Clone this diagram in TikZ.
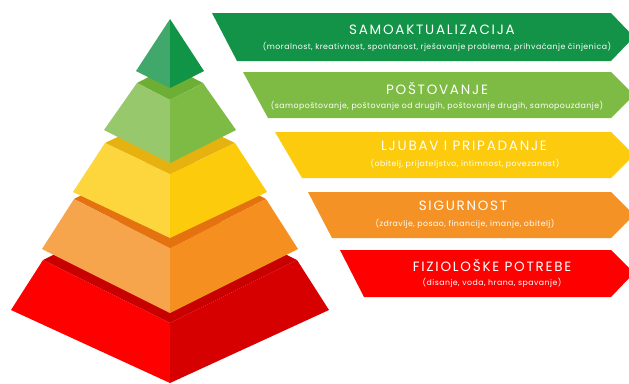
\documentclass[tikz,border=0pt]{standalone}
\usepackage{fontspec}
\setmainfont{Poppins}
\newfontfamily\ttlfont[LetterSpace=13]{Poppins}
\newfontfamily\subfont[LetterSpace=6]{Poppins}
\definecolor{redtop}{HTML}{C80000}
\definecolor{redleft}{HTML}{FF0000}
\definecolor{redright}{HTML}{D70000}
\definecolor{orgtop}{HTML}{E3720F}
\definecolor{orgleft}{HTML}{F7A54C}
\definecolor{orgright}{HTML}{F58F20}
\definecolor{yeltop}{HTML}{E6B210}
\definecolor{yelleft}{HTML}{FDD53C}
\definecolor{yelright}{HTML}{FCCB0C}
\definecolor{lgrtop}{HTML}{6DAE35}
\definecolor{lgrleft}{HTML}{97C86B}
\definecolor{lgrright}{HTML}{7DBB44}
\definecolor{dgrleft}{HTML}{41A86C}
\definecolor{dgrright}{HTML}{109446}
\definecolor{ban1}{HTML}{139347}
\definecolor{ban2}{HTML}{7DBB45}
\definecolor{ban3}{HTML}{FDCB0D}
\definecolor{ban4}{HTML}{F59225}
\definecolor{ban5}{HTML}{FF0000}
\newcommand\pyrtier[7]{%
  \fill[#7top] ({170-#1},#2) -- (170,{#2-#3}) -- ({170+#1},#2) -- (170,{#2+#3}) -- cycle;
  \fill[#7left] ({170-#1},#2) -- (170,{#2+#3}) -- (170,{#5+#6}) -- ({170-#4},#5) -- cycle;
  \fill[#7right] ({170+#1},#2) -- (170,{#2+#3}) -- (170,{#5+#6}) -- ({170+#4},#5) -- cycle;
}
\tikzset{
  ttl/.style={text=white, font=\ttlfont\fontsize{13.5}{14}\selectfont, inner sep=0pt, anchor=center},
  sub/.style={text=white, font=\subfont\fontsize{7.8}{8}\selectfont, inner sep=0pt, anchor=center}
}
\begin{document}
\begin{tikzpicture}[x=1pt,y=-1pt]
\useasboundingbox (0,0) rectangle (629,383);
\clip (0,0) rectangle (629,383);
% pyramid
\pyrtier{127}{260}{63}{159}{310}{73}{red}
\pyrtier{96}{199}{49}{128}{249}{64}{org}
\pyrtier{65}{143}{31}{97}{192}{46}{yel}
\pyrtier{33}{83}{17}{66}{130}{33}{lgr}
\fill[dgrleft] (170,19) -- (136,71) -- (170,88) -- cycle;
\fill[dgrright] (170,19) -- (204,71) -- (170,88) -- cycle;
% banners
\fill[ban1] (212,13) -- (611,13) -- (634,37) -- (611,61) -- (237,61) -- cycle;
\fill[ban2] (243,72) -- (611,72) -- (634,95) -- (611,118) -- (268,118) -- cycle;
\fill[ban3] (275,132) -- (611,132) -- (634,155) -- (611,178) -- (302,178) -- cycle;
\fill[ban4] (308,192) -- (611,192) -- (634,215) -- (611,238) -- (332,238) -- cycle;
\fill[ban5] (340,250) -- (611,250) -- (634,273) -- (611,297) -- (364,297) -- cycle;
% texts
\node[ttl] (t1) at (432,30) {SAMOAKTUALIZACIJA};
\node[sub] (s1) at (437,47) {(moralnost, kreativnost, spontanost, rješavanje problema, prihvaćanje činjenica)};
\node[ttl] (t2) at (437,88) {POŠTOVANJE};
\node[sub] (s2) at (437,106) {(samopoštovanje, poštovanje od drugih, poštovanje drugih, samopouzdanje)};
\node[ttl] (t3) at (464,146) {LJUBAV I PRIPADANJE};
\node[sub] (s3) at (465,164) {(obitelj, prijateljstvo, intimnost, povezanost)};
\node[ttl] (t4) at (463,206) {SIGURNOST};
\node[sub] (s4) at (465,224) {(zdravlje, posao, financije, imanje, obitelj)};
\node[ttl] (t5) at (492,265) {FIZIOLOŠKE POTREBE};
\node[sub] (s5) at (492,283) {(disanje, voda, hrana, spavanje)};
\end{tikzpicture}
\end{document}
